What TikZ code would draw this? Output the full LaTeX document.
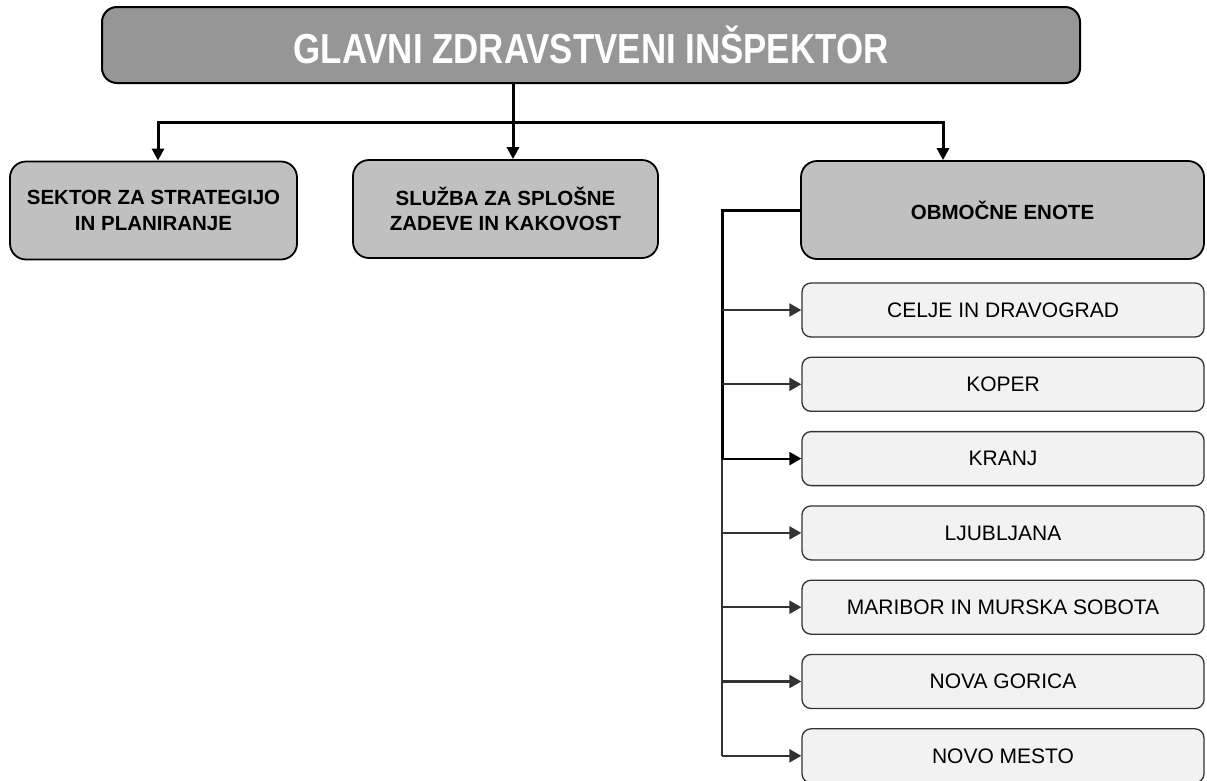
\documentclass[tikz,border=0pt]{standalone}
\usepackage{fontspec}
\setmainfont{Liberation Sans}
\newfontfamily\titlefont[FakeStretch=0.83]{Liberation Sans}
\usepackage{xcolor}
\usetikzlibrary{positioning}
\usetikzlibrary{arrows.meta}
\definecolor{headgray}{HTML}{969696}
\definecolor{unitgray}{HTML}{C0C0C0}
\definecolor{subgray}{HTML}{F2F2F2}
\definecolor{linegray}{HTML}{333333}

\begin{document}
\begin{tikzpicture}[x=1pt,y=-1pt,>={Triangle[length=12pt,width=12pt]},node distance=19pt,
    head node/.style={draw,line width=2pt,rounded corners=15pt,fill=headgray,text=white,
      font=\titlefont\bfseries\fontsize{42}{44}\selectfont,minimum width=978pt,minimum height=76pt},
    unit node/.style={draw,line width=1.8pt,rounded corners=16pt,fill=unitgray,align=center,
      font=\bfseries\fontsize{20.5}{25.5}\selectfont,minimum height=98pt},
    sub node/.style={draw=linegray,line width=1.3pt,rounded corners=9pt,fill=subgray,
      font=\fontsize{21}{24}\selectfont,minimum width=402pt,minimum height=54pt},
    main line/.style={line width=3pt},
    sub line/.style={draw=linegray,line width=2.2pt,-{Triangle[length=12pt,width=13pt]}}]
\useasboundingbox (0,0) rectangle (1207,780);

\node[head node] (gzi) at (591,45) {GLAVNI ZDRAVSTVENI INŠPEKTOR};
\node[unit node,minimum width=287pt] (sektor) at (153.5,210.5) {SEKTOR ZA STRATEGIJO\\IN PLANIRANJE};
\node[unit node,minimum width=305pt] (sluzba) at (505.5,209) {SLUŽBA ZA SPLOŠNE\\ZADEVE IN KAKOVOST};
\node[unit node,minimum width=403pt] (enote) at (1002.5,210) {OBMOČNE ENOTE};

\node[sub node] (celje) at (1003,310) {CELJE IN DRAVOGRAD};
\node[sub node] (koper) [below=of celje] {KOPER};
\node[sub node] (kranj) [below=of koper] {KRANJ};
\node[sub node] (ljubljana) [below=of kranj] {LJUBLJANA};
\node[sub node] (maribor) [below=of ljubljana] {MARIBOR IN MURSKA SOBOTA};
\node[sub node] (gorica) [below=of maribor] {NOVA GORICA};
\node[sub node] (mesto) [below=of gorica] {NOVO MESTO};

\coordinate (split) at (513,122);
\coordinate (bus) at (722,211);

\draw[main line,->] (gzi.south -| split) -- (sluzba.north -| split);
\draw[main line,->] (split) -| ([xshift=4.5pt]sektor.north);
\draw[main line,->] (split) -| ([xshift=-59.5pt]enote.north);

\draw[main line] (enote.west) -| (bus |- kranj.west);
\draw[main line,draw=linegray,line width=2.5pt] (bus |- kranj.west) -- (bus |- mesto.west);

\draw[sub line] (bus |- celje.west) -- (celje.west);
\draw[sub line] (bus |- koper.west) -- (koper.west);
\draw[sub line,draw=black] (bus |- kranj.west) -- (kranj.west);
\draw[sub line] (bus |- ljubljana.west) -- (ljubljana.west);
\draw[sub line] (bus |- maribor.west) -- (maribor.west);
\draw[sub line] (bus |- gorica.west) -- (gorica.west);
\draw[sub line] (bus |- mesto.west) -- (mesto.west);
\end{tikzpicture}
\end{document}
